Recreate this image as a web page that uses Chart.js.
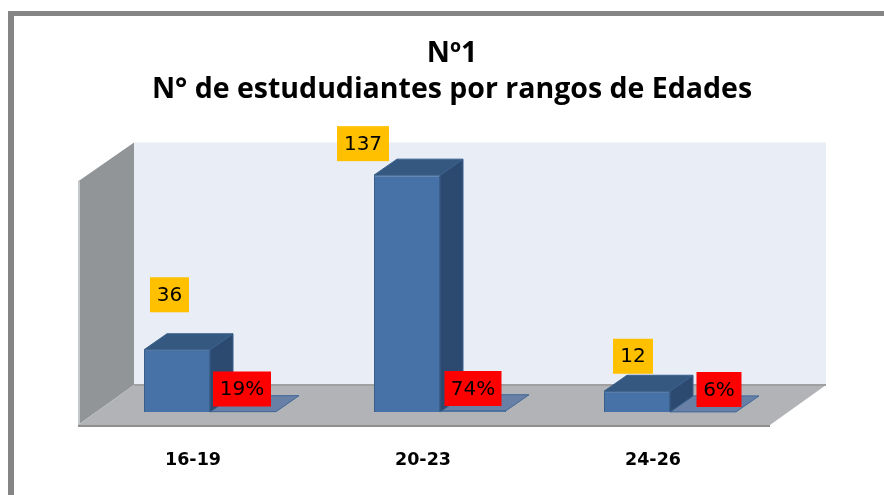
<!DOCTYPE html>
<html>
<head>
<meta charset="utf-8">
<style>
  html, body { margin: 0; padding: 0; background: #fff; overflow: hidden; }
  canvas { display: block; }
</style>
<script src="https://cdn.jsdelivr.net/npm/chart.js@4"></script>
</head>
<body>
<canvas id="chart" width="884" height="495"></canvas>
<script>
const categories = ["16-19", "20-23", "24-26"];
const students = [36, 137, 12];
const shares = [0.19, 0.74, 0.06];
const titleLines = ["Nº1", "N° de estududiantes por rangos de Edades"];

// how far the hand placed labels sit from their bar (dx, dy, box width)
const countLabelPos = [[-7.5, -55, 39], [-44, -31.5, 52], [-4, -35, 40]];
const shareLabelPos = [[65, -23, 58], [66, -23.5, 57], [82, -22.5, 45]];

const DEPTH_X = 23;
const DEPTH_Y = -16;

function poly(ctx, pts, fill, stroke) {
  ctx.beginPath();
  pts.forEach((p, i) => i ? ctx.lineTo(p[0], p[1]) : ctx.moveTo(p[0], p[1]));
  ctx.closePath();
  ctx.fillStyle = fill;
  ctx.fill();
  if (stroke) {
    ctx.strokeStyle = stroke;
    ctx.lineWidth = 1;
    ctx.stroke();
  }
}

function labelBox(ctx, cx, cy, w, text, color) {
  ctx.fillStyle = color;
  ctx.fillRect(cx - w / 2, cy - 17.5, w, 35);
  ctx.fillStyle = "#000";
  ctx.font = "20px 'DejaVu Sans'";
  ctx.textAlign = "center";
  ctx.textBaseline = "middle";
  ctx.fillText(text, cx, cy + 1);
}

const scene3d = {
  id: "scene3d",
  afterLayout(chart) {
    // the title sits a bit right of the canvas centre
    chart.titleBlock.left += 24;
  },
  beforeDatasetsDraw(chart) {
    const ctx = chart.ctx;
    const area = chart.chartArea;
    const left = area.left - 17, right = area.right - 15, bottom = area.bottom + 13;
    const backX = 56, backY = -40, wallTop = area.top + 7;

    ctx.save();
    // outer frame
    ctx.fillStyle = "#858585";
    ctx.fillRect(8, 11, 876, 5);
    ctx.fillRect(8, 11, 6, 484);

    // back wall, side wall, floor
    poly(ctx, [[left + backX, wallTop], [right + backX, wallTop], [right + backX, bottom + backY], [left + backX, bottom + backY]], "#e9edf6");
    poly(ctx, [[left, wallTop + 39], [left + backX, wallTop], [left + backX, bottom + backY], [left, bottom]], "#929598");
    ctx.fillStyle = "#c5c8cb";
    ctx.fillRect(left, wallTop + 39, 2, bottom - wallTop - 39);
    poly(ctx, [[left, bottom], [left + backX, bottom + backY], [right + backX, bottom + backY], [right, bottom]], "#b1b3b6");
    ctx.fillStyle = "#a0a0a0";
    ctx.fillRect(left + backX, bottom + backY - 1, right - left, 2);
    ctx.fillStyle = "#8f8f8f";
    ctx.fillRect(left, bottom, right - left, 2);

    // side and top faces of the bars, flat series first so the tall bars cover it
    [1, 0].forEach(ds => {
      chart.getDatasetMeta(ds).data.forEach(bar => {
        const x0 = bar.x - bar.width / 2, x1 = bar.x + bar.width / 2;
        const top = Math.min(bar.y, bar.base), base = bar.base;
        if (ds === 0) {
          poly(ctx, [[x1, top], [x1 + DEPTH_X, top + DEPTH_Y], [x1 + DEPTH_X, base + DEPTH_Y], [x1, base]], "#2c4a70", "#3a5f8c");
          poly(ctx, [[x0, top], [x0 + DEPTH_X, top + DEPTH_Y], [x1 + DEPTH_X, top + DEPTH_Y], [x1, top]], "#345880", "#3a5f8c");
        } else {
          poly(ctx, [[x0, top], [x0 + DEPTH_X, top + DEPTH_Y], [x1 + DEPTH_X, top + DEPTH_Y], [x1, top]], "#6880a5", "#3f6899");
        }
      });
    });
    ctx.restore();
  },
  afterDatasetsDraw(chart) {
    const ctx = chart.ctx;
    ctx.save();
    chart.getDatasetMeta(0).data.forEach((bar, i) => {
      const c = countLabelPos[i], s = shareLabelPos[i];
      labelBox(ctx, bar.x + c[0], bar.y + c[1], c[2], String(students[i]), "#ffc000");
      labelBox(ctx, bar.x + s[0], bar.base + s[1], s[2], Math.round(shares[i] * 100) + "%", "#ff0000");
    });
    ctx.restore();
  }
};

new Chart(document.getElementById("chart").getContext("2d"), {
  type: "bar",
  data: {
    labels: categories,
    datasets: [
      { label: "Estudiantes", data: students, backgroundColor: "#4672a8", borderColor: "#3a5f8c", borderWidth: 1 },
      { label: "Porcentaje", data: shares, backgroundColor: "#3f6899", borderColor: "#3f6899", borderWidth: 1 }
    ]
  },
  options: {
    responsive: false,
    animation: false,
    layout: { padding: { left: 95, right: 99, top: 0, bottom: 0 } },
    datasets: { bar: { categoryPercentage: 0.574, barPercentage: 1 } },
    plugins: {
      legend: { display: false },
      tooltip: { enabled: false },
      title: {
        display: true,
        text: titleLines,
        color: "#000",
        font: { family: "'Open Sans'", size: 28.5, weight: "bold", lineHeight: 1.27 },
        padding: { top: 36, bottom: 27 }
      }
    },
    scales: {
      x: {
        grid: { display: false },
        border: { display: false },
        ticks: {
          color: "#000",
          font: { family: "'DejaVu Sans'", size: 17.5, weight: "bold" },
          padding: 30,
          labelOffset: -17,
          maxRotation: 0,
          autoSkip: false
        },
        afterFit(scale) { scale.height = 83; }
      },
      y: {
        display: false,
        min: 0,
        max: 160
      }
    }
  },
  plugins: [scene3d]
});
</script>
</body>
</html>
